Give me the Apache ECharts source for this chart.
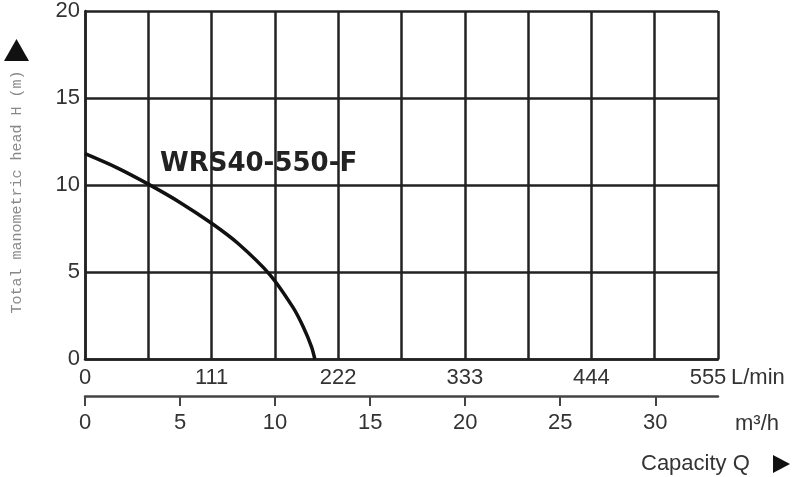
<!DOCTYPE html>
<html>
<head>
<meta charset="utf-8">
<script src="https://cdn.jsdelivr.net/npm/echarts@6/dist/echarts.min.js"></script>
<style>
html, body { margin: 0; padding: 0; background: #fff; }
#chart { width: 800px; height: 477px; }
</style>
</head>
<body>
<div id="chart"></div>
<script>
// pump curve WRS40-550-F : capacity in L/min, head in m
var flowLmin = [0, 27.75, 55.5, 83.25, 111, 134, 162, 182.5, 191.3, 198.6, 201.5];
var headM = [11.8, 11.0, 10.05, 9.0, 7.8, 6.65, 4.85, 2.95, 1.85, 0.7, 0];
var lminLabels = [0, 111, 222, 333, 444, 555];
var m3hLabels = [0, 5, 10, 15, 20, 25, 30];

var myChart = echarts.init(document.getElementById('chart'));

var curve = flowLmin.map(function(q, i) {
    return [q, headM[i]];
});

var labelFont = 'Liberation Sans, Arial, sans-serif';

option = {
    backgroundColor: '#fff',
    animation: false,
    title: {
        text: 'WRS40-550-F',
        left: 155,
        top: 146,
        textStyle: {
            fontFamily: 'DejaVu Sans',
            fontWeight: 'bold',
            fontSize: 26,
            color: '#222'
        }
    },
    grid: {
        left: 85,
        right: 82,
        top: 6,
        bottom: 118
    },
    xAxis: [
        {
            // L/min, grid every 55.5
            type: 'value',
            position: 'bottom',
            min: 0,
            max: 555,
            interval: 55.5,
            axisLine: { show: true, lineStyle: { color: '#222', width: 2.5 } },
            axisTick: { show: false },
            splitLine: { show: true, lineStyle: { color: '#222', width: 2.5 } },
            axisLabel: {
                customValues: lminLabels,
                margin: 8,
                fontSize: 22,
                fontFamily: labelFont,
                color: '#333',
                formatter: function(v) {
                    return v === 555 ? '{r|555}' : String(v);
                },
                rich: {
                    r: { fontSize: 22, fontFamily: labelFont, color: '#333', padding: [0, 20, 0, 0] }
                }
            }
        },
        {
            // m3/h scale underneath
            type: 'value',
            position: 'bottom',
            offset: 37,
            min: 0,
            max: 33.3,
            interval: 5,
            axisLine: { show: true, onZero: false, lineStyle: { color: '#444', width: 2.5 } },
            axisTick: {
                show: true,
                customValues: m3hLabels,
                length: 10,
                lineStyle: { color: '#444', width: 2 }
            },
            splitLine: { show: false },
            axisLabel: {
                customValues: m3hLabels,
                margin: 16,
                fontSize: 22,
                fontFamily: labelFont,
                color: '#333'
            }
        }
    ],
    yAxis: {
        type: 'value',
        min: 0,
        max: 20,
        interval: 5,
        axisLine: { show: true, lineStyle: { color: '#222', width: 2.5 } },
        axisTick: { show: false },
        splitLine: { show: true, lineStyle: { color: '#222', width: 2.5 } },
        axisLabel: {
            margin: 5,
            fontSize: 22,
            fontFamily: labelFont,
            color: '#333'
        }
    },
    graphic: [
        {
            type: 'text',
            x: 17,
            y: 192,
            rotation: Math.PI / 2,
            style: {
                text: 'Total manometric head H (m)',
                fontFamily: 'Liberation Mono',
                fontSize: 15,
                fill: '#888',
                textAlign: 'center',
                textVerticalAlign: 'middle'
            }
        },
        {
            type: 'polygon',
            shape: { points: [[4, 61], [16.5, 39], [29, 61]] },
            style: { fill: '#111' }
        },
        {
            type: 'text',
            x: 731,
            y: 378,
            style: {
                text: 'L/min',
                fontFamily: labelFont,
                fontSize: 22,
                fill: '#333',
                textVerticalAlign: 'middle'
            }
        },
        {
            type: 'text',
            x: 735,
            y: 424,
            style: {
                text: 'm³/h',
                fontFamily: labelFont,
                fontSize: 22,
                fill: '#333',
                textVerticalAlign: 'middle'
            }
        },
        {
            type: 'text',
            x: 641,
            y: 464,
            style: {
                text: 'Capacity Q',
                fontFamily: labelFont,
                fontSize: 22,
                fill: '#333',
                textVerticalAlign: 'middle'
            }
        },
        {
            type: 'polygon',
            shape: { points: [[773, 455], [790, 464], [773, 473]] },
            style: { fill: '#111' }
        }
    ],
    series: [
        {
            type: 'line',
            xAxisIndex: 0,
            yAxisIndex: 0,
            data: curve,
            smooth: 0.3,
            showSymbol: false,
            lineStyle: { color: '#111', width: 3.5 },
            z: 5
        }
    ]
};

myChart.setOption(option);
</script>
</body>
</html>
